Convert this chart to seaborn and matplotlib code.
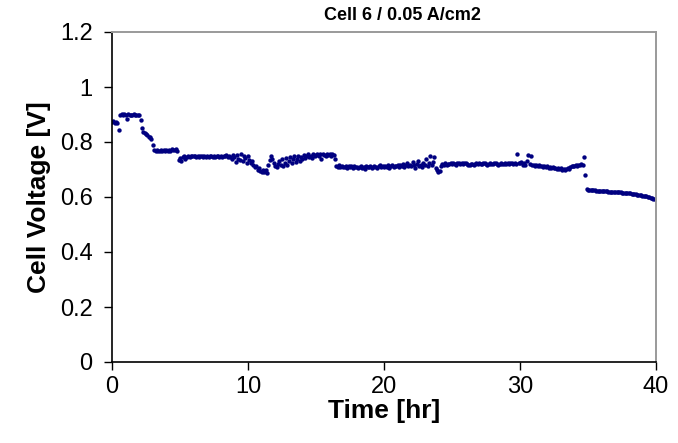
import numpy as np
import pandas as pd
import matplotlib
matplotlib.use("Agg")
import matplotlib.pyplot as plt
from matplotlib.ticker import FuncFormatter
import seaborn as sns

# Logged cell voltage, one reading every 0.1 hr (one row per hour)
sample_interval_hr = 0.1
voltage_rows = [
    [0.872, 0.875, 0.870, 0.873, 0.868, 0.843, 0.900, 0.902, 0.899, 0.901],  # 0
    [0.900, 0.882, 0.901, 0.899, 0.900, 0.899, 0.901, 0.900, 0.898, 0.900],  # 1
    [0.899, 0.880, 0.850, 0.838, 0.832, 0.828, 0.826, 0.820, 0.818, 0.812],  # 2
    [0.790, 0.772, 0.768, 0.770, 0.766, 0.769, 0.771, 0.767, 0.770, 0.768],  # 3
    [0.770, 0.767, 0.771, 0.769, 0.773, 0.770, 0.772, 0.775, 0.768, 0.735],  # 4
    [0.742, 0.730, 0.745, 0.748, 0.740, 0.747, 0.749, 0.746, 0.750, 0.748],  # 5
    [0.748, 0.750, 0.747, 0.749, 0.746, 0.750, 0.748, 0.745, 0.749, 0.747],  # 6
    [0.749, 0.746, 0.750, 0.748, 0.747, 0.749, 0.745, 0.748, 0.750, 0.747],  # 7
    [0.748, 0.746, 0.749, 0.750, 0.752, 0.747, 0.750, 0.745, 0.738, 0.752],  # 8
    [0.745, 0.728, 0.752, 0.740, 0.735, 0.755, 0.730, 0.748, 0.742, 0.725],  # 9
    [0.750, 0.735, 0.722, 0.730, 0.715, 0.708, 0.712, 0.700, 0.705, 0.695],  # 10
    [0.690, 0.698, 0.692, 0.700, 0.688, 0.718, 0.735, 0.748, 0.738, 0.725],  # 11
    [0.712, 0.708, 0.720, 0.730, 0.715, 0.738, 0.712, 0.725, 0.742, 0.718],  # 12
    [0.730, 0.745, 0.722, 0.738, 0.748, 0.728, 0.740, 0.750, 0.732, 0.745],  # 13
    [0.738, 0.752, 0.742, 0.748, 0.755, 0.745, 0.750, 0.742, 0.756, 0.748],  # 14
    [0.752, 0.757, 0.748, 0.755, 0.740, 0.758, 0.753, 0.750, 0.756, 0.752],  # 15
    [0.755, 0.750, 0.758, 0.752, 0.740, 0.712, 0.708, 0.715, 0.710, 0.712],  # 16
    [0.710, 0.708, 0.713, 0.706, 0.711, 0.709, 0.714, 0.707, 0.712, 0.710],  # 17
    [0.708, 0.705, 0.710, 0.712, 0.706, 0.709, 0.703, 0.711, 0.708, 0.710],  # 18
    [0.712, 0.707, 0.710, 0.714, 0.708, 0.705, 0.711, 0.715, 0.709, 0.712],  # 19
    [0.708, 0.713, 0.710, 0.716, 0.707, 0.712, 0.718, 0.709, 0.714, 0.711],  # 20
    [0.715, 0.709, 0.718, 0.712, 0.720, 0.708, 0.716, 0.724, 0.711, 0.718],  # 21
    [0.713, 0.728, 0.715, 0.705, 0.720, 0.732, 0.712, 0.718, 0.708, 0.725],  # 22
    [0.716, 0.740, 0.712, 0.722, 0.750, 0.718, 0.728, 0.745, 0.705, 0.698],  # 23
    [0.690, 0.693, 0.712, 0.720, 0.716, 0.722, 0.718, 0.721, 0.719, 0.723],  # 24
    [0.720, 0.724, 0.721, 0.718, 0.722, 0.725, 0.721, 0.723, 0.719, 0.722],  # 25
    [0.724, 0.721, 0.718, 0.716, 0.719, 0.721, 0.717, 0.720, 0.723, 0.720],  # 26
    [0.722, 0.719, 0.721, 0.724, 0.722, 0.720, 0.718, 0.721, 0.723, 0.720],  # 27
    [0.719, 0.722, 0.724, 0.721, 0.718, 0.720, 0.723, 0.721, 0.719, 0.722],  # 28
    [0.720, 0.723, 0.721, 0.725, 0.722, 0.719, 0.724, 0.721, 0.756, 0.723],  # 29
    [0.722, 0.728, 0.718, 0.725, 0.716, 0.730, 0.753, 0.720, 0.750, 0.718],  # 30
    [0.716, 0.714, 0.717, 0.712, 0.715, 0.711, 0.714, 0.710, 0.713, 0.709],  # 31
    [0.711, 0.707, 0.710, 0.706, 0.709, 0.704, 0.707, 0.703, 0.706, 0.702],  # 32
    [0.705, 0.700, 0.703, 0.699, 0.702, 0.706, 0.702, 0.708, 0.711, 0.714],  # 33
    [0.712, 0.716, 0.713, 0.718, 0.715, 0.719, 0.717, 0.747, 0.681, 0.628],  # 34
    [0.626, 0.625, 0.625, 0.624, 0.624, 0.624, 0.623, 0.623, 0.623, 0.622],  # 35
    [0.622, 0.622, 0.621, 0.621, 0.621, 0.620, 0.620, 0.620, 0.619, 0.619],  # 36
    [0.619, 0.618, 0.618, 0.617, 0.617, 0.616, 0.616, 0.615, 0.615, 0.614],  # 37
    [0.614, 0.613, 0.612, 0.612, 0.611, 0.610, 0.609, 0.608, 0.607, 0.606],  # 38
    [0.605, 0.604, 0.603, 0.602, 0.600, 0.599, 0.597, 0.596, 0.594, 0.593],  # 39
    [0.591],                                                                 # 40
]

x_ticks = [0, 10, 20, 30, 40]
y_ticks = [0, 0.2, 0.4, 0.6, 0.8, 1.0, 1.2]
title_text = "Cell 6 / 0.05 A/cm2"
x_label = "Time [hr]"
y_label = "Cell Voltage [V]"

voltage = [v for row in voltage_rows for v in row]
time_hr = np.round(np.arange(len(voltage)) * sample_interval_hr, 2)
df = pd.DataFrame({"time": time_hr, "voltage": voltage})

sns.set_theme(style="white")
plt.rcParams["font.family"] = ["Liberation Sans", "DejaVu Sans"]
plt.rcParams.update({
    "text.color": "black",
    "axes.labelcolor": "black",
    "xtick.color": "black",
    "ytick.color": "black",
})

fig = plt.figure(figsize=(6.78, 4.43), dpi=100)
ax = fig.add_axes([112 / 678, 1 - 362 / 443, 544 / 678, 330 / 443])

sns.scatterplot(data=df, x="time", y="voltage", ax=ax, color="#000080",
                s=10, linewidth=0, marker="o", legend=False)

ax.set_xlim(0, 40)
ax.set_ylim(0, 1.2)
ax.set_xticks(x_ticks)
ax.set_yticks(y_ticks)
ax.yaxis.set_major_formatter(FuncFormatter(lambda v, p: f"{v:g}"))
ax.tick_params(axis="both", which="major", labelsize=17, color="black",
               direction="out", bottom=True, left=True, length=6, width=1)
ax.tick_params(axis="x", pad=4)
ax.tick_params(axis="y", pad=8)

for side in ("left", "bottom"):
    ax.spines[side].set_color("black")
    ax.spines[side].set_linewidth(1.2)
for side in ("top", "right"):
    ax.spines[side].set_color("#9a9a9a")
    ax.spines[side].set_linewidth(1.4)

ax.set_xlabel(x_label, fontsize=19, fontweight="bold", labelpad=1)
ax.set_ylabel(y_label, fontsize=19, fontweight="bold", labelpad=6)
ax.set_title(title_text, fontsize=13, fontweight="bold", pad=9,
             x=(402 - 112) / 544)

fig.savefig("out.png", dpi=100)
